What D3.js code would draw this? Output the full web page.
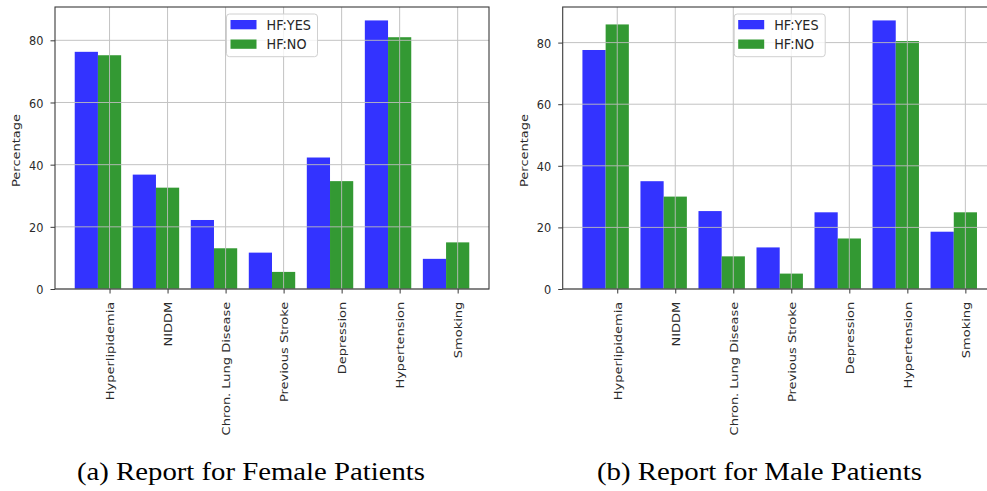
<!DOCTYPE html>
<html>
<head>
<meta charset="utf-8">
<script src="https://cdn.jsdelivr.net/npm/d3@7"></script>
<style>
  html, body { margin: 0; padding: 0; background: #fff; }
  svg { display: block; overflow: hidden; }
  text { font-family: "DejaVu Sans", sans-serif; }
  text.caption { font-family: "Liberation Serif", serif; }
</style>
</head>
<body>
<svg id="chart" width="987" height="491"></svg>
<script>
// ---- data ----
const categories = ["Hyperlipidemia", "NIDDM", "Chron. Lung Disease", "Previous Stroke", "Depression", "Hypertension", "Smoking"];
const seriesNames = ["HF:YES", "HF:NO"];
const femaleYes = [76.3, 36.8, 22.2, 11.7, 42.3, 86.4, 9.7];
const femaleNo  = [75.2, 32.6, 13.1, 5.5, 34.7, 81.0, 15.0];
const maleYes   = [77.6, 35.0, 25.3, 13.5, 24.9, 87.2, 18.6];
const maleNo    = [85.9, 30.0, 10.6, 5.0, 16.4, 80.5, 24.9];
const yTicks = [0, 20, 40, 60, 80];
const yLabel = "Percentage";
const captions = ["(a) Report for Female Patients", "(b) Report for Male Patients"];

// ---- layout / style ----
const colors = ["rgb(51,51,255)", "rgb(51,153,51)"];
const barW = 0.4;
const squeeze = 0.87;
const panels = [
  { left: 55,    top: 7, bottom: 289, width: 434, series: [femaleYes, femaleNo], caption: captions[0], capX: 251,   capW: 348 },
  { left: 562.7, top: 7, bottom: 289, width: 434, series: [maleYes, maleNo],     caption: captions[1], capX: 759.5, capW: 325 }
];

const svg = d3.select("#chart");

panels.forEach(p => {
  const g = svg.append("g");
  const lo = -1.5 * barW, hi = (categories.length - 1) + 0.5 * barW;
  const m = 0.05 * (hi - lo);
  const x = d3.scaleLinear().domain([lo - m, hi + m]).range([p.left, p.left + p.width]);
  const ymax = d3.max(p.series.flat()) * 1.05;
  const y = d3.scaleLinear().domain([0, ymax]).range([p.bottom, p.top]);
  const offsets = [-barW, 0];

  // bars
  p.series.forEach((vals, s) => {
    g.append("g").selectAll("rect").data(vals).join("rect")
      .attr("x", (d, i) => x(i + offsets[s] - barW / 2))
      .attr("width", (d, i) => x(i + offsets[s] + barW / 2) - x(i + offsets[s] - barW / 2))
      .attr("y", d => y(d))
      .attr("height", d => y(0) - y(d))
      .attr("fill", colors[s]);
  });

  // grid (above bars)
  const grid = g.append("g").attr("stroke", "#bdbdbd").attr("stroke-width", 1).attr("opacity", 0.9);
  grid.selectAll("line.gx").data(d3.range(categories.length)).join("line")
    .attr("x1", i => x(i)).attr("x2", i => x(i))
    .attr("y1", p.top).attr("y2", p.bottom);
  grid.selectAll("line.gy").data(yTicks).join("line")
    .attr("x1", p.left).attr("x2", p.left + p.width)
    .attr("y1", d => y(d)).attr("y2", d => y(d));

  // spines
  g.append("rect")
    .attr("x", p.left).attr("y", p.top)
    .attr("width", p.width).attr("height", p.bottom - p.top)
    .attr("fill", "none").attr("stroke", "#3a3a3a").attr("stroke-width", 1.1);

  // y axis
  const ya = g.append("g").attr("transform", `translate(${p.left},0)`)
    .call(d3.axisLeft(y).tickValues(yTicks).tickSize(4.5).tickFormat(d3.format("d")));
  ya.select(".domain").remove();
  ya.selectAll(".tick line").attr("stroke", "#3a3a3a").attr("stroke-width", 1);
  ya.selectAll(".tick text")
    .attr("x", 0).attr("dy", "0.35em")
    .attr("transform", `translate(-11.5,0) scale(${squeeze},1)`)
    .attr("text-anchor", "end")
    .attr("fill", "#2a2a2a")
    .style("font-size", "13px").style("font-family", "DejaVu Sans");

  // x axis
  const xa = g.append("g").attr("transform", `translate(0,${p.bottom})`)
    .call(d3.axisBottom(x).tickValues(d3.range(categories.length)).tickSize(4.5).tickFormat(i => categories[i]));
  xa.select(".domain").remove();
  xa.selectAll(".tick line").attr("stroke", "#3a3a3a").attr("stroke-width", 1);
  xa.selectAll(".tick text")
    .attr("x", 0).attr("y", 0).attr("dy", "0.35em")
    .attr("transform", `translate(0,12.7) scale(${squeeze},1) rotate(-90)`)
    .attr("text-anchor", "end")
    .attr("fill", "#2a2a2a")
    .style("font-size", "13px").style("font-family", "DejaVu Sans");

  // y label
  g.append("text")
    .attr("transform", `translate(${p.left - 39},${(p.top + p.bottom) / 2 + 2.5}) scale(${squeeze},1) rotate(-90)`)
    .attr("text-anchor", "middle").attr("dy", "0.35em")
    .attr("fill", "#2a2a2a")
    .style("font-size", "13px")
    .text(yLabel);

  // legend
  const cx = p.left + p.width / 2;
  const lg = g.append("g").attr("transform", `translate(${cx - 45.5},14)`);
  lg.append("rect").attr("width", 91).attr("height", 42.7).attr("rx", 3)
    .attr("fill", "#fff").attr("fill-opacity", 0.8)
    .attr("stroke", "#d0d0d0").attr("stroke-width", 1);
  seriesNames.forEach((n, s) => {
    lg.append("rect").attr("x", 4).attr("y", 6 + s * 19.5).attr("width", 26).attr("height", 9.3).attr("fill", colors[s]);
    lg.append("text").attr("transform", `translate(40,${16 + s * 19.2}) scale(0.95,1)`)
      .attr("fill", "#262626").style("font-size", "13.5px").text(n);
  });

  // caption
  svg.append("text").attr("class", "caption")
    .attr("x", p.capX - p.capW / 2).attr("y", 480)
    .attr("textLength", p.capW).attr("lengthAdjust", "spacingAndGlyphs")
    .style("font-size", "26px")
    .attr("fill", "#000")
    .text(p.caption);
});
</script>
</body>
</html>
